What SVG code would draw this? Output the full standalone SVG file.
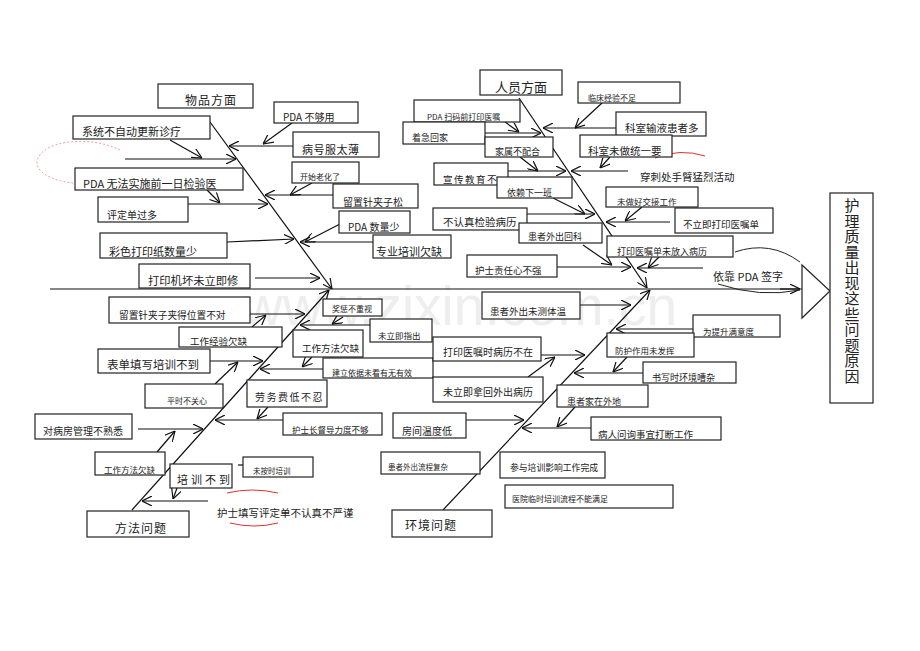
<svg xmlns="http://www.w3.org/2000/svg" width="920" height="651" viewBox="0 0 920 651">
<style>
.b{fill:#fff;stroke:#222;stroke-width:1.2}
.t{font-family:"Noto Sans CJK SC","Noto Sans",sans-serif;fill:#222}
.c path{fill:none;stroke:#111;stroke-width:1.2;marker-end:url(#ah)}
.c .n{marker-end:none}
.wm{font-family:"Liberation Sans",sans-serif;font-size:55px;fill:#eeeeee}
.red{fill:none;stroke:#e03030;stroke-width:1}
</style>
<defs>
<marker id="ah" viewBox="0 0 10 10" refX="10" refY="5" markerWidth="10" markerHeight="10" markerUnits="userSpaceOnUse" orient="auto">
<path d="M0,0 L10,5 L0,10" fill="none" stroke="#111" stroke-width="1.2"/>
</marker>
</defs>
<rect width="920" height="651" fill="#fff"/>
<text class="wm" x="243" y="325">www.zixin.com.cn</text>

<g id="connectors" class="c">
<path class="n" d="M50,289 H802"/>
<path d="M780,289 H800"/>
<path d="M210,122 L332,289"/>
<path d="M519,98 L647,288"/>
<path d="M132,510 L329,290"/>
<path d="M443,510 L650,290"/>
<path d="M293,146 H229"/>
<path d="M125,159 H236"/>
<path d="M292,123 L263,144"/>
<path d="M170,140 L202,158"/>
<path d="M207,190 L220,203"/>
<path d="M188,204 H268"/>
<path d="M312,183 L290,195"/>
<path d="M333,195 H265"/>
<path d="M227,242 L294,239"/>
<path d="M340,224 L305,242"/>
<path d="M373,242 H300"/>
<path d="M255,278 H320"/>
<path d="M602,103 L575,128"/>
<path d="M616,128 H543"/>
<path d="M505,122 L519,132"/>
<path d="M485,133 H541"/>
<path d="M520,157 L538,171"/>
<path d="M508,171 H566"/>
<path d="M628,171 H571"/>
<path d="M610,157 L600,168"/>
<path d="M553,198 L585,214"/>
<path d="M527,214 H595"/>
<path d="M642,207 L625,221"/>
<path d="M670,222 H606"/>
<path d="M583,245 L612,265"/>
<path d="M557,267 H631"/>
<path d="M660,256 L648,268"/>
<path d="M703,268 H637"/>
<path d="M250,314 H305"/>
<path d="M252,327 L266,315"/>
<path d="M370,325 H300"/>
<path d="M343,317 L332,324"/>
<path d="M210,361 H263"/>
<path d="M215,384 L238,362"/>
<path d="M323,369 H260"/>
<path d="M312,357 L302,367"/>
<path d="M268,407 L257,419"/>
<path d="M283,420 H215"/>
<path d="M138,429 H203"/>
<path d="M157,452 L175,431"/>
<path d="M177,488 L173,499"/>
<path class="n" d="M238,465 H243"/>
<path d="M208,501 H142"/>
<path d="M572,305 H631"/>
<path d="M693,329 H616"/>
<path d="M541,355 H585"/>
<path d="M528,377 L555,357"/>
<path d="M627,357 L613,372"/>
<path d="M643,373 H574"/>
<path d="M575,407 L557,427"/>
<path d="M591,428 H522"/>
<path d="M466,420 H524"/>
</g>

<g id="decor">
<path d="M120,150 C90,135 40,140 37,162 C36,180 80,190 125,180" fill="none" stroke="#f0a0a0" stroke-width="1" stroke-dasharray="2,2"/>
<path class="red" d="M655,158 Q680,148 705,156"/>
<path class="red" d="M227,493 Q252,487 278,493"/>
<path class="red" d="M230,523 Q254,529 278,523"/>
<path d="M735,252 Q770,240 800,262" fill="none" stroke="#222" stroke-width="1"/>
<path d="M718,284 Q760,298 800,290" fill="none" stroke="#222" stroke-width="1"/>
</g>

<g id="head"><polygon class="b" points="802,265 830,291 802,318"/></g>
<g id="title"><rect class="b" x="830" y="193" width="43" height="210"/>
<text class="t" font-size="15" text-anchor="middle"><tspan x="852" y="211">护</tspan><tspan x="852" dy="15.5">理</tspan><tspan x="852" dy="15.5">质</tspan><tspan x="852" dy="15.5">量</tspan><tspan x="852" dy="15.5">出</tspan><tspan x="852" dy="15.5">现</tspan><tspan x="852" dy="15.5">这</tspan><tspan x="852" dy="15.5">些</tspan><tspan x="852" dy="15.5">问</tspan><tspan x="852" dy="15.5">题</tspan><tspan x="852" dy="15.5">原</tspan><tspan x="852" dy="15.5">因</tspan></text></g>

<g id="n1"><rect class="b" x="158" y="84" width="95" height="24"/><text class="t" x="185" y="105" font-size="12" letter-spacing="1">物品方面</text></g>
<g id="n2"><rect class="b" x="73" y="116" width="137" height="23"/><text class="t" x="82" y="136" font-size="11">系统不自动更新诊疗</text></g>
<g id="n3"><rect class="b" x="75" y="168" width="168" height="22"/><text class="t" x="83" y="188" font-size="11">PDA 无法实施前一日检验医</text></g>
<g id="n4"><rect class="b" x="98" y="197" width="90" height="25"/><text class="t" x="107" y="219" font-size="10">评定单过多</text></g>
<g id="n5"><rect class="b" x="100" y="233" width="127" height="25"/><text class="t" x="109" y="256" font-size="11">彩色打印纸数量少</text></g>
<g id="n6"><rect class="b" x="139" y="264" width="111" height="24"/><text class="t" x="148" y="285" font-size="11.3">打印机坏未立即修</text></g>
<g id="n7"><rect class="b" x="274" y="102" width="84" height="21"/><text class="t" x="283" y="121" font-size="10">PDA 不够用</text></g>
<g id="n8"><rect class="b" x="293" y="132" width="86" height="25"/><text class="t" x="302" y="154" font-size="11" letter-spacing="0.5">病号服太薄</text></g>
<g id="n9"><rect class="b" x="292" y="162" width="67" height="21"/><text class="t" x="300" y="180" font-size="8">开始老化了</text></g>
<g id="n10"><rect class="b" x="333" y="184" width="85" height="24"/><text class="t" x="343" y="206" font-size="10">留置针夹子松</text></g>
<g id="n11"><rect class="b" x="339" y="211" width="71" height="22"/><text class="t" x="348" y="231" font-size="10">PDA 数量少</text></g>
<g id="n12"><rect class="b" x="373" y="235" width="78" height="23"/><text class="t" x="376" y="256" font-size="11">专业培训欠缺</text></g>

<g id="n13"><rect class="b" x="480" y="70" width="82" height="25"/><text class="t" x="495" y="92" font-size="13">人员方面</text></g>
<g id="n14"><rect class="b" x="578" y="82" width="102" height="21"/><text class="t" x="588" y="101" font-size="8">临床经验不足</text></g>
<g id="n15"><rect class="b" x="616" y="112" width="90" height="24"/><text class="t" x="625" y="132" font-size="10.5">科室输液患者多</text></g>
<g id="n16"><rect class="b" x="414" y="100" width="106" height="22"/><text class="t" x="427" y="120" font-size="8">PDA 扫码前打印医嘱</text></g>
<g id="n17"><rect class="b" x="403" y="122" width="82" height="22"/><text class="t" x="412" y="141" font-size="9">着急回家</text></g>
<g id="n18"><rect class="b" x="485" y="137" width="68" height="20"/><text class="t" x="495" y="155" font-size="9">家属不配合</text></g>
<g id="n19"><rect class="b" x="580" y="135" width="92" height="22"/><text class="t" x="588" y="155" font-size="10.5">科室未做统一要</text></g>
<g id="n20"><text class="t" x="640" y="181" font-size="10.5">穿刺处手臂猛烈活动</text></g>
<g id="n21"><rect class="b" x="434" y="163" width="74" height="22"/><text class="t" x="443" y="183" font-size="9.5" letter-spacing="1.5">宣传教育不</text></g>
<g id="n22"><rect class="b" x="497" y="177" width="75" height="21"/><text class="t" x="507" y="196" font-size="9">依赖下一班</text></g>
<g id="n23"><rect class="b" x="433" y="208" width="94" height="22"/><text class="t" x="443" y="226" font-size="10.5">不认真检验病历</text></g>
<g id="n24"><rect class="b" x="519" y="223" width="83" height="20"/><text class="t" x="528" y="240" font-size="9">患者外出回科</text></g>
<g id="n25"><rect class="b" x="606" y="187" width="92" height="20"/><text class="t" x="617" y="205" font-size="8.5">未做好交接工作</text></g>
<g id="n26"><rect class="b" x="675" y="208" width="98" height="25"/><text class="t" x="683" y="228" font-size="9.5">不立即打印医嘱单</text></g>
<g id="n27"><rect class="b" x="467" y="255" width="90" height="22"/><text class="t" x="475" y="274" font-size="9.5">护士责任心不强</text></g>
<g id="n28"><rect class="b" x="607" y="236" width="126" height="21"/><text class="t" x="617" y="255" font-size="9">打印医嘱单未放入病历</text></g>
<g id="n29"><text class="t" x="713" y="281" font-size="11">依靠 PDA 签字</text></g>

<g id="n30"><rect class="b" x="109" y="297" width="141" height="26"/><text class="t" x="119" y="319" font-size="9.7">留置针夹子夹得位置不对</text></g>
<g id="n31"><rect class="b" x="179" y="327" width="103" height="20"/><text class="t" x="190" y="345" font-size="9.5">工作经验欠缺</text></g>
<g id="n32"><rect class="b" x="98" y="349" width="112" height="24"/><text class="t" x="107" y="369" font-size="11.5">表单填写培训不到</text></g>
<g id="n33"><rect class="b" x="145" y="384" width="78" height="24"/><text class="t" x="167" y="404" font-size="8">平时不关心</text></g>
<g id="n34"><rect class="b" x="323" y="299" width="59" height="17"/><text class="t" x="332" y="312" font-size="8">奖惩不重视</text></g>
<g id="n35"><rect class="b" x="370" y="319" width="62" height="23"/><text class="t" x="378" y="339" font-size="8.5">未立即指出</text></g>
<g id="n36"><rect class="b" x="293" y="330" width="70" height="27"/><text class="t" x="302" y="352" font-size="9.5">工作方法欠缺</text></g>
<g id="n37"><rect class="b" x="323" y="358" width="110" height="20"/><text class="t" x="332" y="376" font-size="8">建立依据未看有无有效</text></g>
<g id="n38"><rect class="b" x="247" y="380" width="80" height="27"/><text class="t" x="255" y="401" font-size="10" letter-spacing="1.5">劳务费低不忍</text></g>
<g id="n39"><rect class="b" x="283" y="413" width="99" height="22"/><text class="t" x="292" y="433" font-size="8.5">护士长督导力度不够</text></g>
<g id="n40"><rect class="b" x="35" y="414" width="97" height="25"/><text class="t" x="43" y="435" font-size="10">对病房管理不熟悉</text></g>
<g id="n41"><rect class="b" x="95" y="452" width="70" height="23"/><text class="t" x="104" y="473" font-size="8.5">工作方法欠缺</text></g>
<g id="n42"><rect class="b" x="170" y="464" width="62" height="24"/><text class="t" x="177" y="484" font-size="11" letter-spacing="3">培训不到</text></g>
<g id="n43"><rect class="b" x="243" y="457" width="70" height="20"/><text class="t" x="253" y="474" font-size="7.5">未按时培训</text></g>
<g id="n44"><text class="t" x="217" y="517" font-size="10.5">护士填写评定单不认真不严谨</text></g>
<g id="n45"><rect class="b" x="87" y="511" width="102" height="26"/><text class="t" x="115" y="533" font-size="12" letter-spacing="1">方法问题</text></g>

<g id="n46"><rect class="b" x="482" y="292" width="98" height="27"/><text class="t" x="490" y="315" font-size="9.5">患者外出未测体温</text></g>
<g id="n47"><rect class="b" x="433" y="337" width="108" height="24"/><text class="t" x="443" y="356" font-size="10">打印医嘱时病历不在</text></g>
<g id="n48"><rect class="b" x="433" y="377" width="110" height="25"/><text class="t" x="443" y="396" font-size="10">未立即拿回外出病历</text></g>
<g id="n49"><rect class="b" x="693" y="315" width="87" height="22"/><text class="t" x="703" y="335" font-size="8.5">为提升满意度</text></g>
<g id="n50"><rect class="b" x="607" y="333" width="87" height="24"/><text class="t" x="615" y="354" font-size="8.5">防护作用未发挥</text></g>
<g id="n51"><rect class="b" x="643" y="362" width="93" height="21"/><text class="t" x="652" y="381" font-size="9">书写时环境嘈杂</text></g>
<g id="n52"><rect class="b" x="557" y="385" width="91" height="22"/><text class="t" x="567" y="405" font-size="9">患者家在外地</text></g>
<g id="n53"><rect class="b" x="591" y="417" width="130" height="23"/><text class="t" x="598" y="438" font-size="9.5">病人问询事宜打断工作</text></g>
<g id="n54"><rect class="b" x="393" y="413" width="73" height="25"/><text class="t" x="402" y="435" font-size="10">房间温度低</text></g>
<g id="n55"><rect class="b" x="381" y="452" width="99" height="22"/><text class="t" x="388" y="470" font-size="7.5">患者外出流程复杂</text></g>
<g id="n56"><rect class="b" x="500" y="452" width="105" height="26"/><text class="t" x="510" y="471" font-size="8.8">参与培训影响工作完成</text></g>
<g id="n57"><rect class="b" x="505" y="485" width="168" height="23"/><text class="t" x="512" y="502" font-size="8">医院临时培训流程不能满足</text></g>
<g id="n58"><rect class="b" x="392" y="510" width="100" height="27"/><text class="t" x="405" y="530" font-size="12" letter-spacing="1">环境问题</text></g>
</svg>
